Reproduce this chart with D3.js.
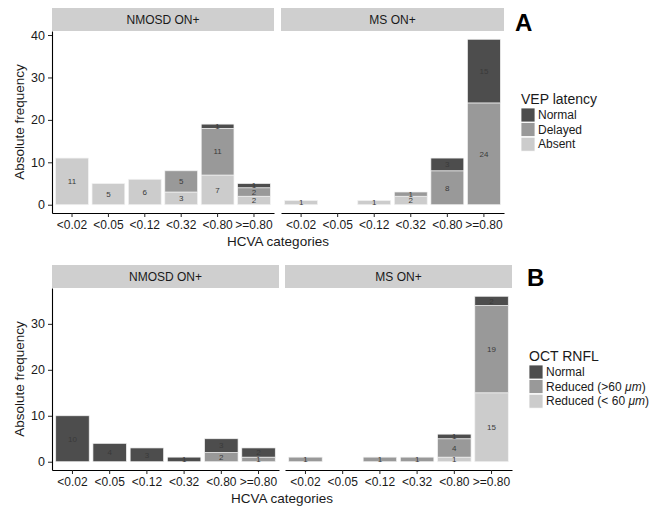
<!DOCTYPE html>
<html>
<head>
<meta charset="utf-8">
<script src="https://cdn.jsdelivr.net/npm/d3@7"></script>
<style>
  body { margin: 0; background: #fff; }
  svg text { font-family: "Liberation Sans", Arial, Helvetica, sans-serif; }
</style>
</head>
<body>
<div id="chart"></div>
<script>
// categories and facets
const categories = ["<0.02", "<0.05", "<0.12", "<0.32", "<0.80", ">=0.80"];
const facets = ["NMOSD ON+", "MS ON+"];

// panel A - VEP latency (stacked bottom -> top: Absent, Delayed, Normal)
const vepLevels = ["Absent", "Delayed", "Normal"];
const vepNmosdAbsent  = [11, 5, 6, 3, 7, 2];
const vepNmosdDelayed = [0, 0, 0, 5, 11, 2];
const vepNmosdNormal  = [0, 0, 0, 0, 1, 1];
const vepMsAbsent  = [1, 0, 1, 2, 0, 0];
const vepMsDelayed = [0, 0, 0, 1, 8, 24];
const vepMsNormal  = [0, 0, 0, 0, 3, 15];
const vepTicks = [0, 10, 20, 30, 40];

// panel B - OCT RNFL (stacked bottom -> top: <60, >60, Normal)
const octLevels = ["Low", "High", "Normal"];
const octNmosdLow    = [0, 0, 0, 0, 0, 0];
const octNmosdHigh   = [0, 0, 0, 0, 2, 1];
const octNmosdNormal = [10, 4, 3, 1, 3, 2];
const octMsLow    = [0, 0, 0, 0, 1, 15];
const octMsHigh   = [1, 0, 1, 1, 4, 19];
const octMsNormal = [0, 0, 0, 0, 1, 2];
const octTicks = [0, 10, 20, 30];

const fills = {Absent: "#cccccc", Delayed: "#999999", Normal: "#4d4d4d",
               Low: "#cccccc", High: "#999999"};

const svg = d3.select("#chart").append("svg")
    .attr("width", 651)
    .attr("height", 509);

function rows(series, keys) {
  return categories.map((c, i) => {
    const r = {cat: c};
    keys.forEach((k, j) => r[k] = series[j][i]);
    return r;
  });
}

function drawPanel(cfg) {
  const stackGen = d3.stack().keys(cfg.levels);
  const stacked = cfg.series.map(s => stackGen(rows(s, cfg.levels)));
  const maxVal = d3.max(stacked, st => d3.max(st[st.length - 1], d => d[1]));

  const y = d3.scaleLinear()
    .domain([-0.05 * maxVal, 1.05 * maxVal])
    .range([cfg.bottom, cfg.top]);

  cfg.panelsX.forEach((px, f) => {
    const x = d3.scaleBand()
      .domain(categories)
      .range(px)
      .paddingInner(0.1)
      .paddingOuter(0.1);

    // strip
    svg.append("rect")
      .attr("x", px[0]).attr("y", cfg.stripTop)
      .attr("width", px[1] - px[0]).attr("height", cfg.top - cfg.stripTop)
      .attr("fill", "#cfcfcf");
    svg.append("text")
      .attr("x", (px[0] + px[1]) / 2)
      .attr("y", (cfg.stripTop + cfg.top) / 2)
      .attr("dy", "0.35em")
      .attr("text-anchor", "middle")
      .attr("font-size", 12)
      .attr("fill", "#1a1a1a")
      .text(facets[f]);

    const g = svg.append("g");
    stacked[f].forEach(layer => {
      layer.forEach(d => {
        if (d[1] - d[0] <= 0) return;
        g.append("rect")
          .attr("x", x(d.data.cat))
          .attr("y", y(d[1]))
          .attr("width", x.bandwidth())
          .attr("height", y(d[0]) - y(d[1]))
          .attr("fill", fills[layer.key])
          .attr("stroke", "#f2f2f2")
          .attr("stroke-width", 0.7);
      });
    });
    stacked[f].forEach(layer => {
      layer.forEach(d => {
        const v = d[1] - d[0];
        if (v <= 0) return;
        g.append("text")
          .attr("x", x(d.data.cat) + x.bandwidth() / 2)
          .attr("y", y((d[0] + d[1]) / 2))
          .attr("dy", "0.35em")
          .attr("text-anchor", "middle")
          .attr("font-size", 8)
          .attr("fill", "#3a3a3a")
          .text(v);
      });
    });

    // x axis
    const xa = svg.append("g")
      .attr("transform", `translate(0,${cfg.bottom})`)
      .call(d3.axisBottom(x).tickSize(4).tickSizeOuter(0).tickPadding(3));
    xa.select(".domain").attr("stroke", "#000").attr("stroke-width", 1.1);
    xa.selectAll(".tick line").attr("stroke", "#222");
    xa.selectAll("text").attr("font-size", 12).attr("fill", "#1a1a1a")
      .attr("font-family", "Liberation Sans, Arial, sans-serif");

    if (f === 0) {
      const ya = svg.append("g")
        .attr("transform", `translate(${px[0]},0)`)
        .call(d3.axisLeft(y).tickValues(cfg.ticks).tickSize(4).tickSizeOuter(0).tickPadding(3));
      ya.select(".domain").attr("stroke", "#000").attr("stroke-width", 1.1);
      ya.selectAll(".tick line").attr("stroke", "#222");
      ya.selectAll("text").attr("font-size", 12.5).attr("fill", "#1a1a1a")
        .attr("font-family", "Liberation Sans, Arial, sans-serif");
    }
  });

  // axis titles
  svg.append("text")
    .attr("x", (cfg.panelsX[0][0] + cfg.panelsX[1][1]) / 2)
    .attr("y", cfg.bottom + 33)
    .attr("text-anchor", "middle")
    .attr("font-size", 13.5)
    .attr("fill", "#1a1a1a")
    .text("HCVA categories");
  svg.append("text")
    .attr("transform", `translate(24,${(cfg.top + cfg.bottom) / 2}) rotate(-90)`)
    .attr("text-anchor", "middle")
    .attr("font-size", 13.5)
    .attr("fill", "#1a1a1a")
    .text("Absolute frequency");

  // legend
  const lg = svg.append("g");
  lg.append("text")
    .attr("x", cfg.legendX).attr("y", cfg.legendTop - 4)
    .attr("font-size", 14)
    .attr("fill", "#1a1a1a")
    .text(cfg.legendTitle);
  const order = cfg.levels.slice().reverse();
  order.forEach((k, i) => {
    const ky = cfg.legendTop + i * 14.6;
    lg.append("rect")
      .attr("x", cfg.legendX).attr("y", ky)
      .attr("width", 14).attr("height", 14)
      .attr("fill", fills[k])
      .attr("stroke", "#fff").attr("stroke-width", 0.8);
    const t = lg.append("text")
      .attr("x", cfg.legendX + 17).attr("y", ky + 7)
      .attr("dy", "0.35em")
      .attr("font-size", 12)
      .attr("fill", "#1a1a1a");
    const lab = cfg.labels[k];
    if (Array.isArray(lab)) {
      t.append("tspan").text(lab[0]);
      t.append("tspan").attr("font-style", "italic").text(lab[1]);
      t.append("tspan").text(lab[2]);
    } else {
      t.text(lab);
    }
  });

  svg.append("text")
    .attr("x", cfg.letterX).attr("y", cfg.letterY)
    .attr("font-size", 24)
    .attr("font-weight", "bold")
    .attr("fill", "#000")
    .text(cfg.letter);
}

drawPanel({
  levels: vepLevels,
  series: [[vepNmosdAbsent, vepNmosdDelayed, vepNmosdNormal],
           [vepMsAbsent, vepMsDelayed, vepMsNormal]],
  ticks: vepTicks,
  stripTop: 8, top: 31, bottom: 213,
  panelsX: [[52, 274], [281, 504]],
  legendX: 521, legendTop: 108,
  legendTitle: "VEP latency",
  labels: {Normal: "Normal", Delayed: "Delayed", Absent: "Absent"},
  letter: "A", letterX: 515, letterY: 31
});

drawPanel({
  levels: octLevels,
  series: [[octNmosdLow, octNmosdHigh, octNmosdNormal],
           [octMsLow, octMsHigh, octMsNormal]],
  ticks: octTicks,
  stripTop: 265, top: 288, bottom: 470,
  panelsX: [[52, 279], [285, 512]],
  legendX: 529, legendTop: 365,
  legendTitle: "OCT RNFL",
  labels: {Normal: "Normal", High: ["Reduced (>60 ", "\u03bcm", ")"],
           Low: ["Reduced (< 60 ", "\u03bcm", ")"]},
  letter: "B", letterX: 527, letterY: 286
});
</script>
</body>
</html>
